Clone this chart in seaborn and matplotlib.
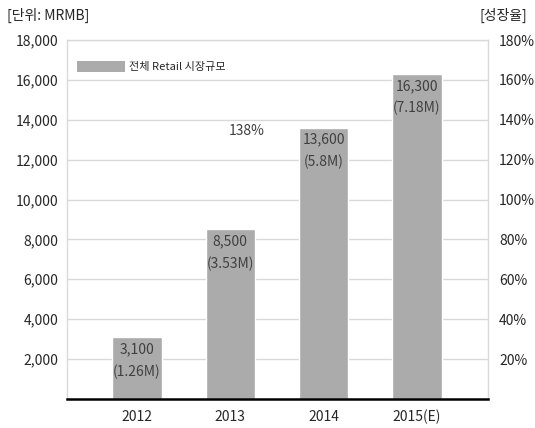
import matplotlib
matplotlib.use('Agg')
import matplotlib.pyplot as plt
import seaborn as sns
import pandas as pd
from matplotlib.patches import Patch

# data
years = ['2012', '2013', '2014', '2015(E)']
retail = [3100, 8500, 13600, 16300]
users = ['1.26M', '3.53M', '5.8M', '7.18M']
growth_label = '138%'
left_ticks = list(range(2000, 18001, 2000))
right_ticks = list(range(20, 181, 20))

sns.set_style('white')
plt.rcParams['font.family'] = ['Noto Sans CJK KR', 'DejaVu Sans']

df = pd.DataFrame({'year': years, 'retail': retail})

fig = plt.figure(figsize=(5.35, 4.28), dpi=100)
ax = fig.add_axes([0.125, 0.068, 0.787, 0.8385])

ax.set_axisbelow(True)
for t in left_ticks:
    ax.axhline(t, color='#d9d9d9', lw=1, zorder=0)

sns.barplot(data=df, x='year', y='retail', color='#ababab', saturation=1,
            width=0.53, ax=ax, zorder=2)

for i, (v, u) in enumerate(zip(retail, users)):
    ax.text(i, v - 250, f'{v:,}\n({u})', ha='center', va='top',
            fontsize=10, color='#404040', linespacing=1.7, zorder=3)

ax.text(1.18, 13100, growth_label, ha='center', va='bottom', fontsize=10,
        color='#404040')

ax.set_xlim(-0.75, 3.76)
ax.set_ylim(0, 18000)
ax.set_yticks(left_ticks)
ax.set_yticklabels([f'{t:,}' for t in left_ticks])
ax.set_xlabel('')
ax.set_ylabel('')
ax.tick_params(axis='both', length=0, labelsize=10, colors='#262626')
ax.tick_params(axis='x', pad=8)
ax.tick_params(axis='y', pad=6)
for s in ['left', 'top', 'right']:
    ax.spines[s].set_color('#d9d9d9')
    ax.spines[s].set_linewidth(1)
ax.spines['bottom'].set_color('black')
ax.spines['bottom'].set_linewidth(1.8)

ax2 = ax.twinx()
ax2.set_ylim(0, 180)
ax2.set_yticks(right_ticks)
ax2.set_yticklabels([f'{t}%' for t in right_ticks])
ax2.tick_params(axis='y', length=0, labelsize=10, colors='#262626', pad=8)
for s in ax2.spines.values():
    s.set_visible(False)

ax.legend(handles=[Patch(facecolor='#ababab', edgecolor='none')],
          labels=['전체 Retail 시장규모'], loc='upper left',
          bbox_to_anchor=(0.0, 0.97), frameon=False, fontsize=8,
          handlelength=4.3, handleheight=1.2, handletextpad=0.4)

fig.text(0.013, 0.965, '[단위: MRMB]', fontsize=10, color='#262626', va='center')
fig.text(0.985, 0.965, '[성장율]', fontsize=10, color='#262626', va='center', ha='right')

fig.savefig('out.png', dpi=100)
